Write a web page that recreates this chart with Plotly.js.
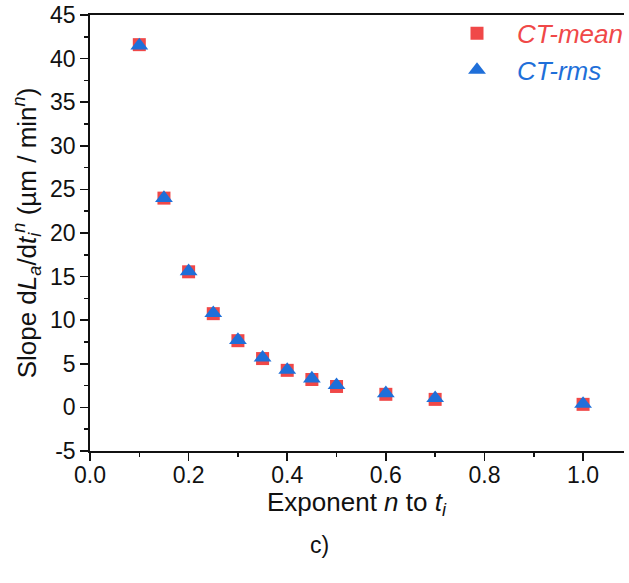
<!DOCTYPE html>
<html>
<head>
<meta charset="utf-8">
<script src="https://cdn.plot.ly/plotly-3.0.1.min.js"></script>
<style>html,body{margin:0;padding:0;background:#fff;}#chart{width:629px;height:583px;}</style>
</head>
<body>
<div id="chart"></div>
<script>
const exponentN = [0.1, 0.15, 0.2, 0.25, 0.3, 0.35, 0.4, 0.45, 0.5, 0.6, 0.7, 1.0];
const ctMean = [41.6, 24.0, 15.55, 10.75, 7.65, 5.6, 4.25, 3.2, 2.4, 1.5, 0.92, 0.35];
const ctRms = [41.5, 24.0, 15.6, 10.8, 7.72, 5.7, 4.3, 3.3, 2.55, 1.62, 1.05, 0.4];
const seriesNames = ["CT-mean", "CT-rms"];
const xTickVals = [0.0, 0.2, 0.4, 0.6, 0.8, 1.0];
const xTickText = ["0.0", "0.2", "0.4", "0.6", "0.8", "1.0"];
const yTickVals = [-5, 0, 5, 10, 15, 20, 25, 30, 35, 40, 45];
const yTickText = ["-5", "0", "5", "10", "15", "20", "25", "30", "35", "40", "45"];

const RED = "#f04848";
const BLUE = "#1f6fd9";
const FONT = "Liberation Sans, Arial, sans-serif";

const traces = [
  {
    x: exponentN, y: ctMean, name: seriesNames[0], type: "scatter", mode: "markers",
    marker: {symbol: "square", size: 13, color: RED}
  },
  {
    x: exponentN, y: ctRms, name: seriesNames[1], type: "scatter", mode: "markers",
    marker: {symbol: "triangle-up", size: 15.5, color: BLUE}
  }
];

const axisCommon = {
  showline: true, linecolor: "#111", linewidth: 1.8,
  ticks: "outside", ticklen: 8, tickwidth: 1.6, tickcolor: "#111",
  showgrid: false, zeroline: false,
  tickfont: {family: FONT, size: 23, color: "#111"}
};

const layout = {
  width: 629, height: 583,
  margin: {l: 90, r: 0, t: 15, b: 132},
  paper_bgcolor: "#fff", plot_bgcolor: "#fff",
  font: {family: FONT, color: "#111"},
  showlegend: true,
  legend: {
    x: 0.65, y: 1.012, xanchor: "left", yanchor: "top",
    bgcolor: "rgba(0,0,0,0)", borderwidth: 0,
    itemwidth: 70, tracegroupgap: 0,
    font: {family: FONT, size: 26}
  },
  xaxis: Object.assign({}, axisCommon, {
    range: [0, 1.083], tickvals: xTickVals, ticktext: xTickText,
    mirror: true, ticklabelstandoff: -5,
    minor: {dtick: 0.1, tick0: 0, ticks: "outside", ticklen: 4, tickwidth: 1.6, tickcolor: "#111"}
  }),
  yaxis: Object.assign({}, axisCommon, {
    range: [-5, 45], tickvals: yTickVals, ticktext: yTickText,
    minor: {dtick: 2.5, tick0: 0, ticks: "outside", ticklen: 4, tickwidth: 1.6, tickcolor: "#111"},
    title: {text: "Slope d<i>L</i><sub><i>a</i></sub>/d<i>t</i><sub><i>i</i></sub><sup><i>n</i></sup> (µm / min<sup><i>n</i></sup>)", font: {family: FONT, size: 26, color: "#111"}, standoff: 6}
  }),
  annotations: [
    {text: "Exponent <i>n</i> to <i>t</i><sub><i>i</i></sub>", xref: "paper", yref: "paper", x: 0.5, y: -0.12,
     xanchor: "center", yanchor: "middle", showarrow: false, font: {family: FONT, size: 26, color: "#111"}},
    {text: "c)", xref: "paper", yref: "paper", x: 0.43, y: -0.215, xanchor: "center", yanchor: "middle",
     showarrow: false, font: {family: FONT, size: 23, color: "#111"}}
  ]
};

Plotly.newPlot("chart", traces, layout, {displayModeBar: false, staticPlot: true}).then(function () {
  const texts = document.querySelectorAll(".legendtext");
  const cols = [RED, BLUE];
  texts.forEach(function (t, i) {
    t.style.fill = cols[i];
    t.style.fontStyle = "italic";
  });
});
</script>
</body>
</html>
